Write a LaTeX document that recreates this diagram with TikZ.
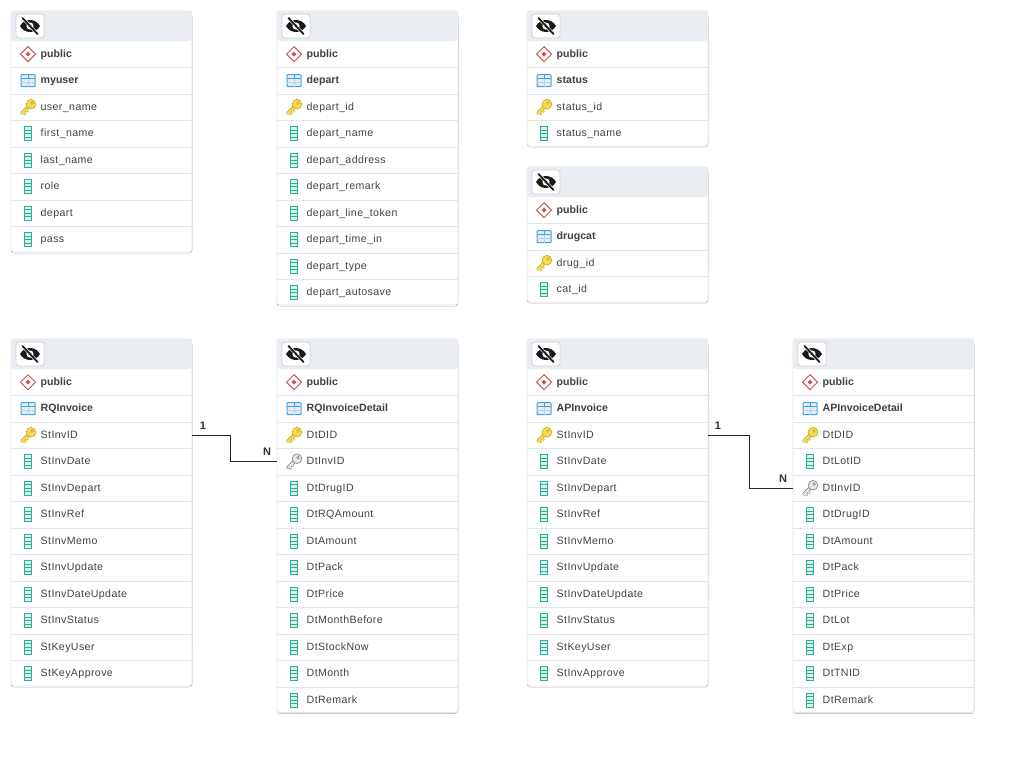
\documentclass[tikz,border=0pt]{standalone}
\usepackage{fontspec}
\setmainfont{Liberation Sans}
\newfontfamily\rowfont[LetterSpace=3.8]{Liberation Sans}
\definecolor{hdr}{HTML}{E9ECF1}
\definecolor{edge}{HTML}{E1E4EA}
\definecolor{shade}{HTML}{D9DCE1}
\definecolor{btn}{HTML}{CDD3DC}
\definecolor{txt}{HTML}{3E4349}
\definecolor{teal}{HTML}{2BAE94}
\definecolor{tealb}{HTML}{D8F1EC}
\definecolor{gold}{HTML}{F6DA5A}
\definecolor{goldd}{HTML}{D0AE20}
\definecolor{grayk}{HTML}{E8E8E8}
\definecolor{graykd}{HTML}{8A8A8A}
\definecolor{blueg}{HTML}{3FA1E8}
\definecolor{redd}{HTML}{C9565A}
\tikzset{
  x=1pt,y=-1pt,
  tablebox/.style={draw=edge,line width=.7pt,fill=white,rounded corners=3pt},
  rowbox/.style={anchor=north west,minimum width=181pt,minimum height=26.5pt,text width=181pt,inner sep=0pt,align=left,text height=8pt,text depth=2.4pt,text=txt},
  rowplain/.style={rowbox,font=\fontsize{10.6}{12}\rowfont},
  rowbold/.style={rowbox,text=black!75,font=\fontsize{10.6}{12}\selectfont\bfseries},
  rowline/.style={draw=edge,line width=.8pt},
  card/.style={font=\fontsize{11}{12}\selectfont\bfseries,text=black!80,inner sep=0pt},
  link/.style={draw=black!85,line width=1pt},
  pics/col/.style={code={
    \draw[teal,line width=.9pt,fill=tealb] (-3.5,-7) rectangle (3.5,7);
    \draw[teal,line width=.6pt] (-3.5,-3.5) -- (3.5,-3.5) (-3.5,0) -- (3.5,0) (-3.5,3.5) -- (3.5,3.5);
  }},
  pics/keyicon/.style 2 args={code={
    \draw[#2,line width=3.6pt,line cap=round] (-6,6) -- (2,-2);
    \draw[#2,line width=2pt] (-5,5) -- (-2.5,7.5) (-2.5,2.5) -- (0,5);
    \draw[#1,line width=2pt,line cap=round] (-6,6) -- (2,-2);
    \draw[#1,line width=1.2pt] (-5,5) -- (-2.8,7.2) (-2.5,2.5) -- (-.3,4.7);
    \draw[#2,line width=.7pt,fill=#1] (3,-3) circle (4.8);
    \draw[#2,line width=.6pt] (4,-4) circle (1.3);
  }},
  pics/tabicon/.style={code={
    \fill[hdr] (-7,-6) rectangle (7,6);
    \draw[blueg,line width=1pt,rounded corners=.8pt] (-7,-6) rectangle (7,6);
    \draw[blueg,line width=.8pt] (-7,-2) -- (7,-2) (0,-6) -- (0,-2);
    \draw[blueg!45,line width=.6pt] (-7,2) -- (7,2) (0,-2) -- (0,6);
  }},
  pics/schemaicon/.style={code={
    \draw[redd,line width=1pt,fill=white] (0,-7.5) -- (7.5,0) -- (0,7.5) -- (-7.5,0) -- cycle;
    \fill[redd] (0,-2.5) -- (2.5,0) -- (0,2.5) -- (-2.5,0) -- cycle;
  }},
  pics/eyeoff/.style={code={
    \fill[black!90] (-10,0) .. controls (-5.5,-8) and (5.5,-8) .. (10,0) .. controls (5.5,8) and (-5.5,8) .. (-10,0) -- cycle;
    \fill[hdr!40!white] (0,0) circle (3.6);
    \fill[black!90] (0,0) circle (1.9);
    \draw[white,line width=3pt] (-8.5,-9) -- (8.5,9);
    \draw[black!90,line width=1.8pt,line cap=round] (-7.5,-8) -- (7.5,8);
  }},
}
% id x y nrows name rows
\newcommand{\erdtab}[6]{%
  \begin{scope}[shift={(#2,#3)}]
    \fill[shade,rounded corners=3pt] (0,3) rectangle (181,{30+26.5*#4+.2});
    \path[tablebox] (0,0) rectangle (181,{30+26.5*#4-1.1});
    \fill[hdr,rounded corners=3pt] (.4,.4) -- (180.6,.4) -- (180.6,30) -- (.4,30) -- cycle;
    \node[draw=btn,line width=.8pt,fill=white,rounded corners=3pt,minimum width=28pt,minimum height=24pt,inner sep=0pt] (#1-eye) at (19,15) {};
    \pic at (#1-eye.center) {eyeoff};
    \node[rowbold] (#1-schema) at (0,30) {\hspace*{29.5pt}public};
    \pic at (17,43.2) {schemaicon};
    \draw[rowline] (.4,56.5) -- (180.6,56.5);
    \node[rowbold] (#1-name) at (0,56.5) {\hspace*{29.5pt}#5};
    \pic at (17,69.7) {tabicon};
    \foreach \k/\t [count=\i from 0] in {#6} {
      \draw[rowline] (.4,{83+26.5*\i}) -- (180.6,{83+26.5*\i});
      \node[rowplain] (#1-r\i) at (0,{83+26.5*\i}) {\hspace*{29.5pt}\t};
      \ifnum\k=0
        \pic at (17,{96.2+26.5*\i}) {col};
      \else\ifnum\k=1
        \pic at (17,{96.2+26.5*\i}) {keyicon={gold}{goldd}};
      \else
        \pic at (17,{96.2+26.5*\i}) {keyicon={grayk}{graykd}};
      \fi\fi
    }
  \end{scope}
}
\begin{document}
\begin{tikzpicture}
\useasboundingbox (0,0) rectangle (1027,758);
\fill[white] (0,0) rectangle (1027,758);
\erdtab{myuser}{11}{11}{8}{myuser}{1/user\_name,0/first\_name,0/last\_name,0/role,0/depart,0/pass}
\erdtab{depart}{277}{11}{10}{depart}{1/depart\_id,0/depart\_name,0/depart\_address,0/depart\_remark,0/depart\_line\_token,0/depart\_time\_in,0/depart\_type,0/depart\_autosave}
\erdtab{status}{527}{11}{4}{status}{1/status\_id,0/status\_name}
\erdtab{drugcat}{527}{167}{4}{drugcat}{1/drug\_id,0/cat\_id}
\erdtab{rq}{11}{339}{12}{RQInvoice}{1/StInvID,0/StInvDate,0/StInvDepart,0/StInvRef,0/StInvMemo,0/StInvUpdate,0/StInvDateUpdate,0/StInvStatus,0/StKeyUser,0/StKeyApprove}
\erdtab{rqd}{277}{339}{13}{RQInvoiceDetail}{1/DtDID,2/DtInvID,0/DtDrugID,0/DtRQAmount,0/DtAmount,0/DtPack,0/DtPrice,0/DtMonthBefore,0/DtStockNow,0/DtMonth,0/DtRemark}
\erdtab{ap}{527}{339}{12}{APInvoice}{1/StInvID,0/StInvDate,0/StInvDepart,0/StInvRef,0/StInvMemo,0/StInvUpdate,0/StInvDateUpdate,0/StInvStatus,0/StKeyUser,0/StInvApprove}
\erdtab{apd}{793}{339}{13}{APInvoiceDetail}{1/DtDID,0/DtLotID,2/DtInvID,0/DtDrugID,0/DtAmount,0/DtPack,0/DtPrice,0/DtLot,0/DtExp,0/DtTNID,0/DtRemark}
\coordinate (rqmid) at (230.5,450);
\coordinate (apmid) at (749.5,450);
\draw[link] (rq-r0.east) -| (rqmid) |- (rqd-r1.west);
\draw[link] (ap-r0.east) -| (apmid) |- (apd-r2.west);
\node[card] (rq1) at (203,426) {1};
\node[card] (rqn) at (267,452) {N};
\node[card] (ap1) at (718,426) {1};
\node[card] (apn) at (783,479) {N};
\end{tikzpicture}
\end{document}
